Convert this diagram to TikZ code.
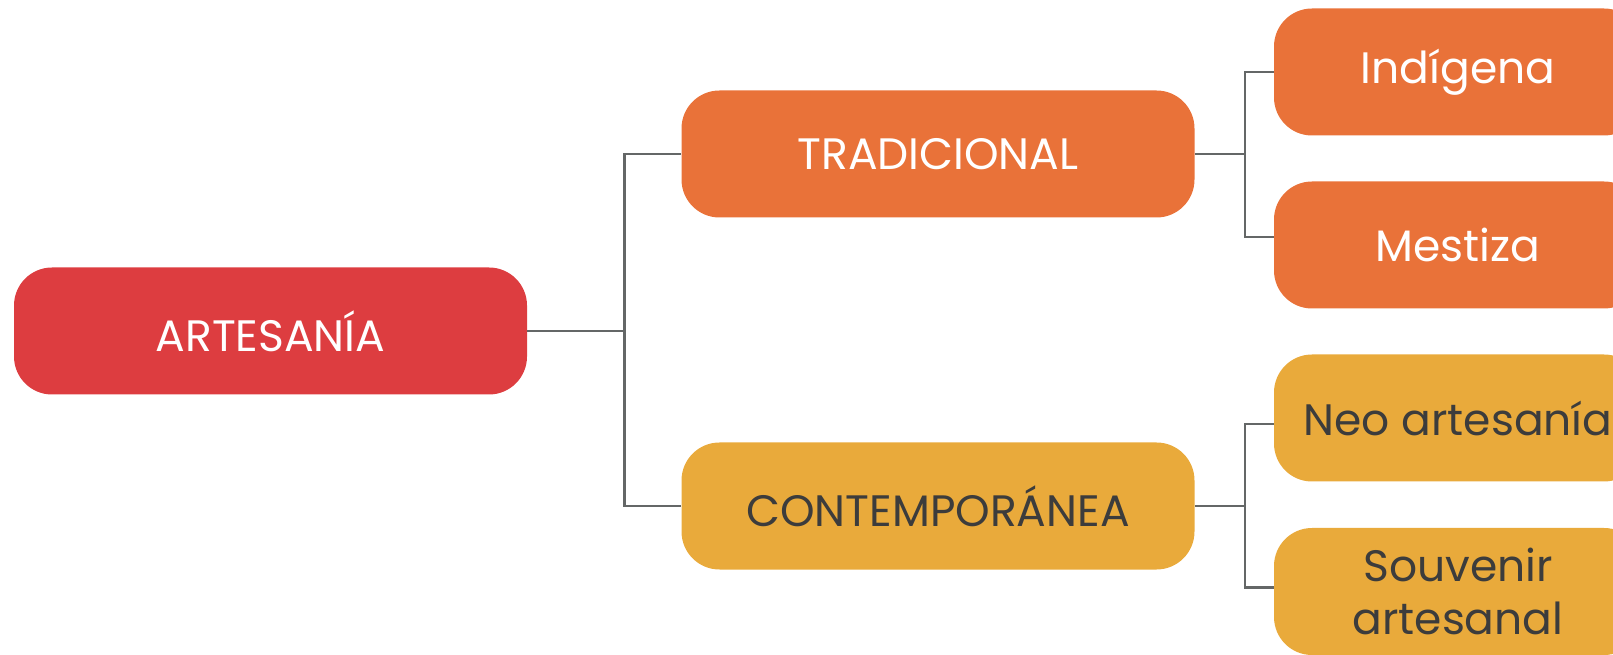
\documentclass[tikz,border=0pt]{standalone}
\usepackage{fontspec}
\setmainfont{Poppins}
\definecolor{artred}{RGB}{221,61,64}
\definecolor{traorange}{RGB}{233,114,57}
\definecolor{conyellow}{RGB}{233,170,59}
\definecolor{linegray}{RGB}{100,103,103}
\definecolor{textgray}{RGB}{60,60,60}

\begin{document}
\begin{tikzpicture}[x=0.5pt, y=0.5pt,
		box/.style={rounded corners=19pt, minimum height=63.5pt, inner sep=0pt, align=center, font=\fontsize{22}{26.5}\selectfont},
		bigbox/.style={box, minimum width=256.5pt},
		smallbox/.style={box, minimum width=184pt},
		link/.style={draw=linegray, line width=1.4pt}]
			\clip (0,0) rectangle (1613,654);
			
			%root
			\node (art) at (270.5,323) [bigbox, fill=artred, text=white]{ARTESANÍA};
			
			%second level
			\node (tra) at (938,500) [bigbox, fill=traorange, text=white]{TRADICIONAL};
			\node (con) at (938,148) [bigbox, fill=conyellow, text=textgray]{CONTEMPORÁNEA};
			
			%leaves
			\node (ind) at (1458,582) [smallbox, fill=traorange, text=white]{Indígena};
			\node (mes) at (1458,409) [smallbox, fill=traorange, text=white]{Mestiza};
			\node (neo) at (1458,236) [smallbox, fill=conyellow, text=textgray]{Neo artesanía};
			\node (sou) at (1458,62.5) [smallbox, fill=conyellow, text=textgray]{Souvenir\\artesanal};
			
			%connectors
			\draw[link] (art.east) -- ++(97,0) coordinate (f0);
			\draw[link] (f0) |- (tra.west);
			\draw[link] (f0) |- (con.west);
			\draw[link] (tra.east) -- ++(50,0) coordinate (f1);
			\draw[link] (f1) |- (ind.west);
			\draw[link] (f1) |- ([yshift=4pt]mes.west);
			\draw[link] (con.east) -- ++(50,0) coordinate (f2);
			\draw[link] (f2) |- ([yshift=-3pt]neo.west);
			\draw[link] (f2) |- ([yshift=2pt]sou.west);
		\end{tikzpicture}
\end{document}
